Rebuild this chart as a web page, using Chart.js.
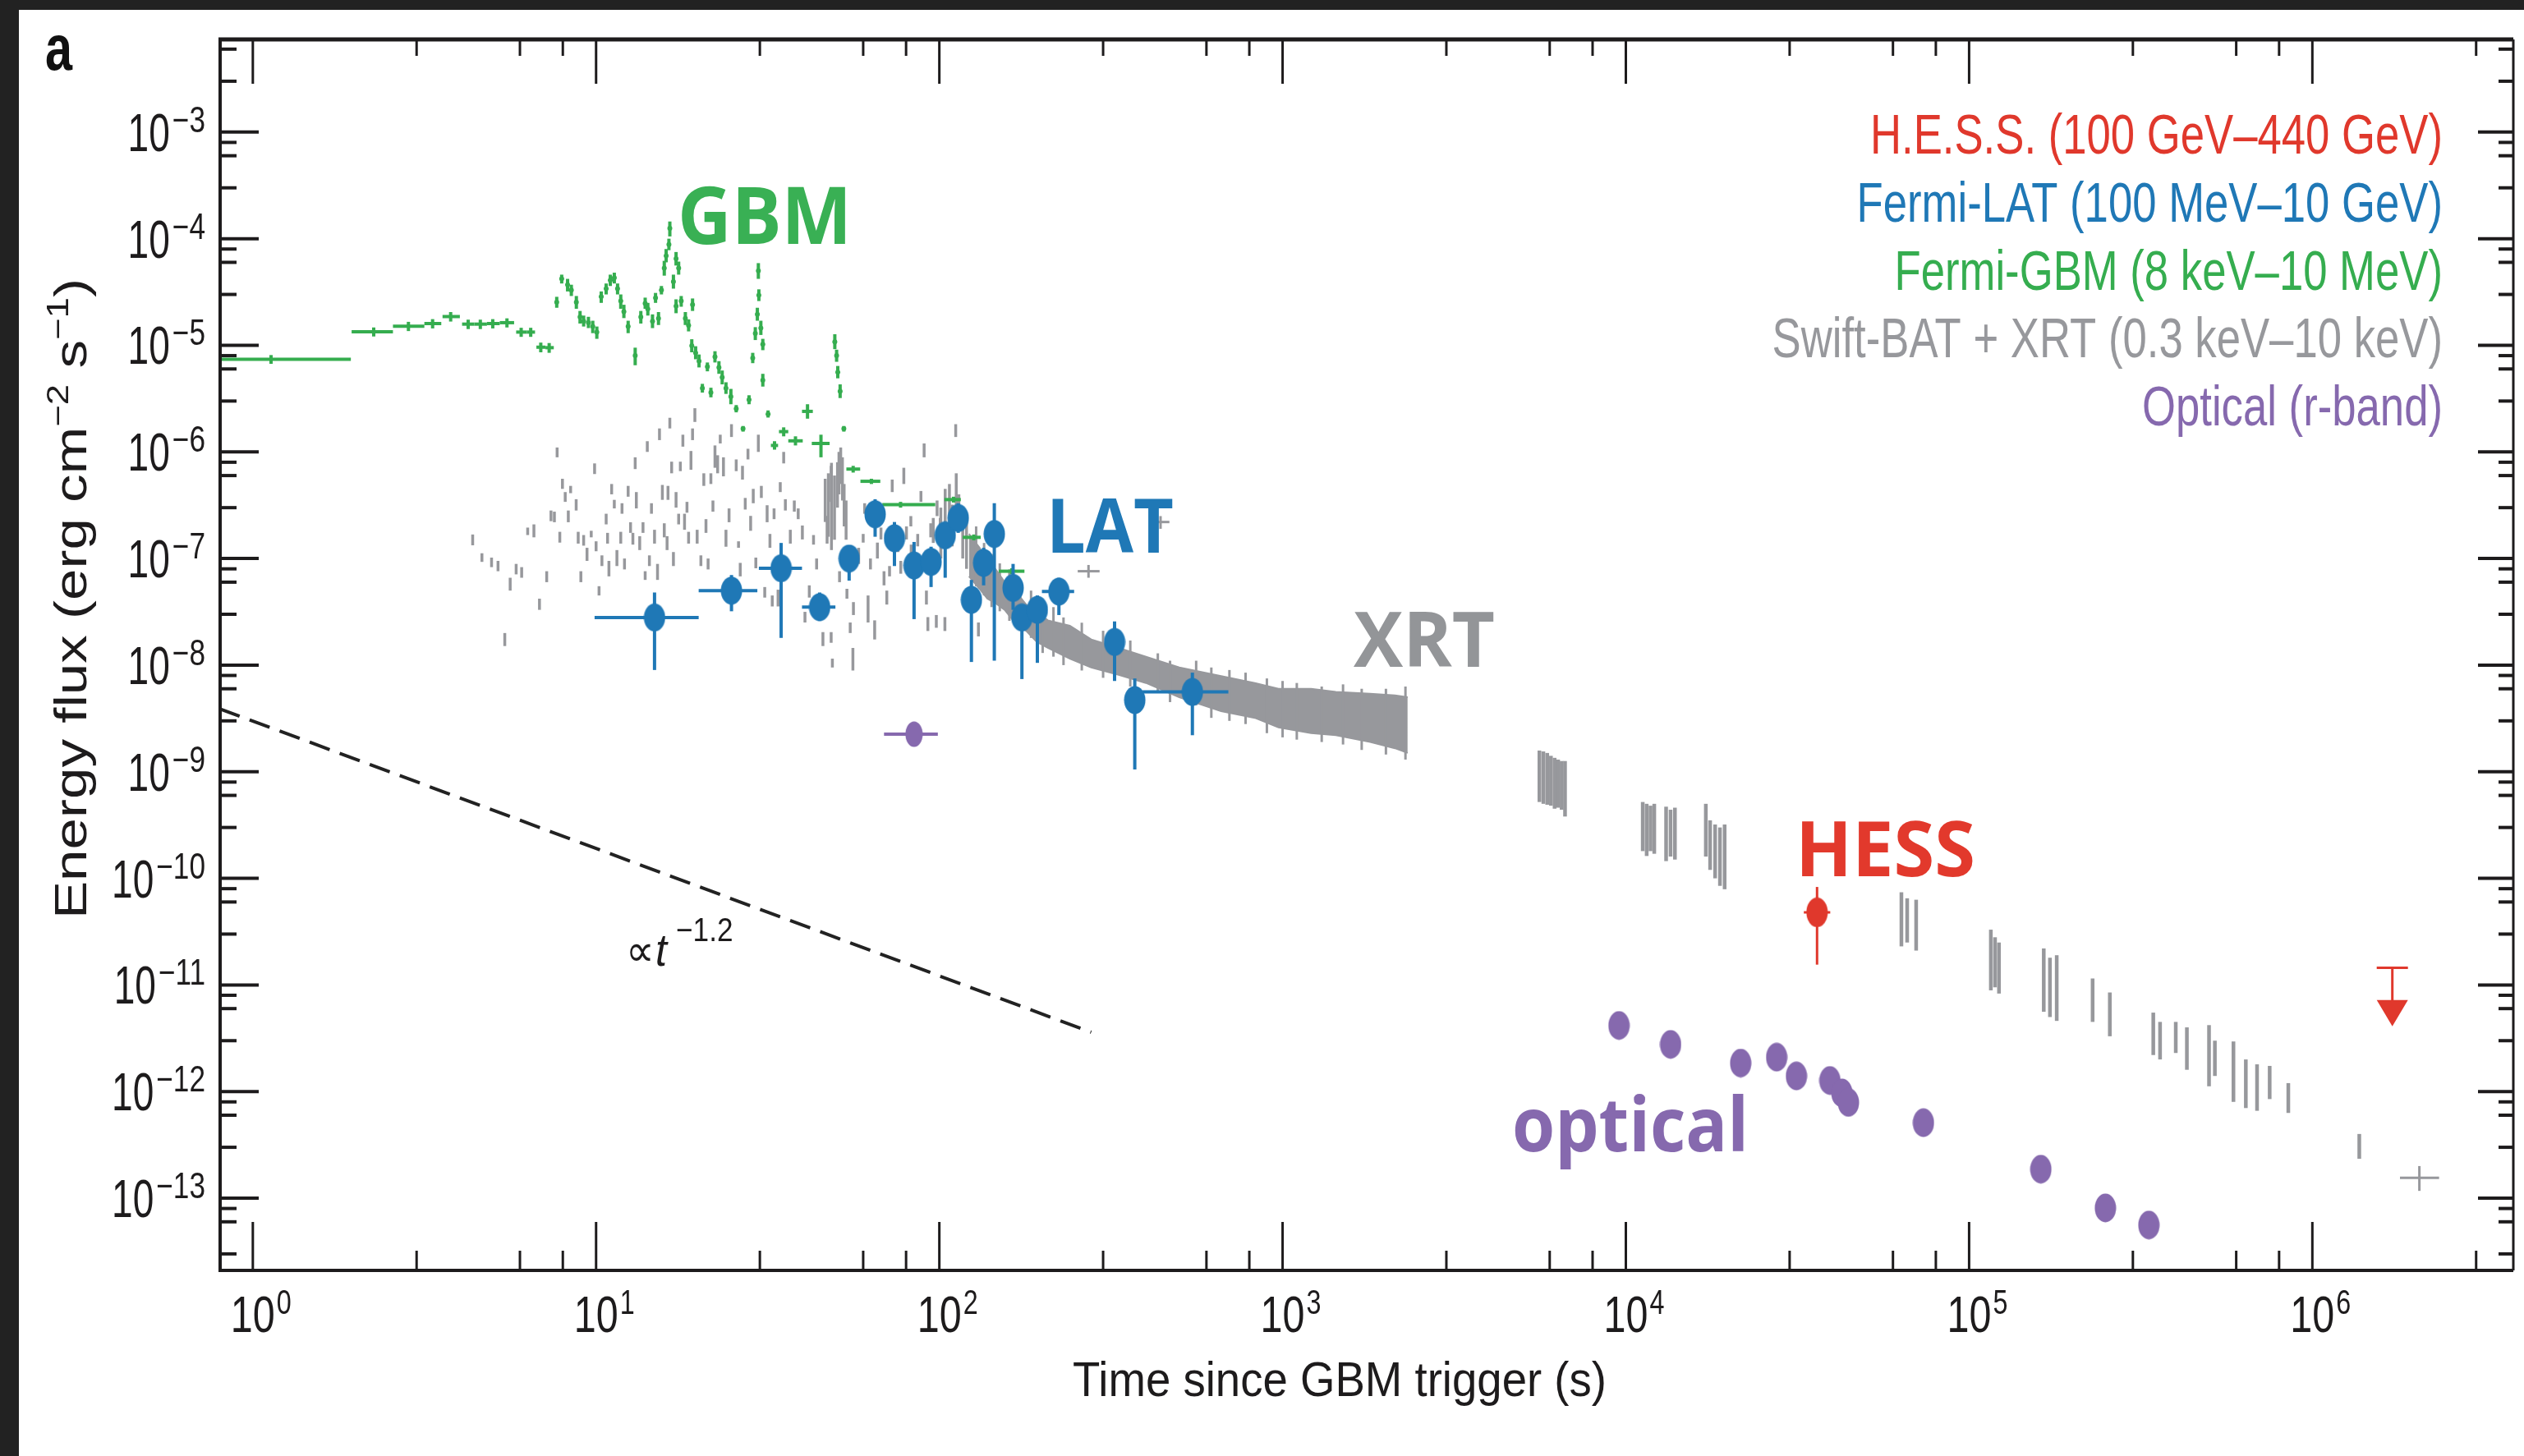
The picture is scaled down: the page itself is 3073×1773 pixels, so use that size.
<!DOCTYPE html>
<html>
<head>
<meta charset="utf-8">
<script src="https://cdn.jsdelivr.net/npm/chart.js@4.4.1/dist/chart.umd.min.js"></script>
<style>
  html, body { margin: 0; padding: 0; background: #fff; }
  #wrap { width: 3073px; height: 1773px; }
</style>
</head>
<body>
<div id="wrap"><canvas id="grb" width="3073" height="1773"></canvas></div>
<script>
/* Axis tick labels (powers of ten) */
const xTickExps = [0, 1, 2, 3, 4, 5, 6];
const yTickExps = [-3, -4, -5, -6, -7, -8, -9, -10, -11, -12, -13];

/* Legend entries */
const legendLabels = [
  "H.E.S.S. (100 GeV\u2013440 GeV)",
  "Fermi-LAT (100 MeV\u201310 GeV)",
  "Fermi-GBM (8 keV\u201310 MeV)",
  "Swift-BAT + XRT (0.3 keV\u201310 keV)",
  "Optical (r-band)",
];

/* Fermi-LAT: [t, tLo, tHi, flux, fluxLo, fluxHi] */
const lat = [
  [14.8, 9.9, 19.9, 2.8e-8, 9.0e-9, 4.8e-8],
  [24.8, 19.9, 29.5, 5.0e-8, 3.2e-8, 7.0e-8],
  [34.6, 29.8, 39.8, 8.1e-8, 1.8e-8, 1.4e-7],
  [44.8, 39.8, 49.8, 3.5e-8, 2.6e-8, 4.8e-8],
  [54.6, 52.0, 57.5, 1.0e-7, 6.2e-8, 1.3e-7],
  [65.0, 65.0, 65.0, 2.6e-7, 1.6e-7, 3.6e-7],
  [74.0, 74.0, 74.0, 1.55e-7, 8.5e-8, 2.2e-7],
  [84.4, 84.4, 84.4, 8.6e-8, 2.7e-8, 1.43e-7],
  [94.6, 94.6, 94.6, 9.3e-8, 5.4e-8, 1.29e-7],
  [104, 104, 104, 1.65e-7, 6.6e-8, 2.2e-7],
  [113.5, 113.5, 113.5, 2.4e-7, 1.74e-7, 3.3e-7],
  [124, 124, 124, 4.1e-8, 1.07e-8, 6.3e-8],
  [134.6, 134.6, 134.6, 9.1e-8, 5.6e-8, 1.26e-7],
  [144.6, 144.6, 144.6, 1.7e-7, 1.1e-8, 3.3e-7],
  [164, 164, 164, 5.3e-8, 3.3e-8, 8.9e-8],
  [174, 174, 174, 2.8e-8, 7.4e-9, 3.7e-8],
  [193, 193, 193, 3.3e-8, 1.05e-8, 4.5e-8],
  [223, 199, 247, 4.9e-8, 2.95e-8, 6.6e-8],
  [324, 324, 324, 1.65e-8, 7.1e-9, 2.57e-8],
  [371, 371, 371, 4.7e-9, 1.05e-9, 7.5e-9],
  [546, 391, 695, 5.6e-9, 2.2e-9, 8.5e-9],
];

/* H.E.S.S. detection and upper limit */
const hess = [[36060, 33000, 39400, 4.8e-11, 1.55e-11, 8.3e-11]];
const hessLimit = [[1.71e6, 1.45e-11, 4.1e-12]]; /* [t, limit, arrow tip] */

/* Optical r-band: [t, flux] */
const optical = [
  [9550, 4.17e-12], [13500, 2.77e-12], [21600, 1.85e-12], [27500, 2.1e-12],
  [31400, 1.4e-12], [39300, 1.27e-12], [42600, 9.7e-13], [44500, 7.9e-13],
  [73600, 5.1e-13], [161800, 1.87e-13], [249500, 8.1e-14], [334000, 5.6e-14],
];
const opticalEarly = [[84.4, 69, 99, 2.25e-9]];

/* Fermi-GBM binned points: [t, tLo, tHi, flux, fluxLo, fluxHi] */
const gbmBins = [
  [1.13, 0.5, 1.93, 7.4e-6, 6.7e-6, 8.1e-6],
  [2.25, 1.94, 2.56, 1.34e-5, 1.21e-5, 1.47e-5],
  [2.84, 2.56, 3.16, 1.51e-5, 1.36e-5, 1.66e-5],
  [3.34, 3.16, 3.54, 1.6e-5, 1.44e-5, 1.76e-5],
  [3.77, 3.57, 4.01, 1.86e-5, 1.67e-5, 2.05e-5],
  [4.24, 4.07, 4.42, 1.58e-5, 1.42e-5, 1.74e-5],
  [4.6, 4.42, 4.81, 1.58e-5, 1.42e-5, 1.74e-5],
  [5.0, 4.81, 5.24, 1.6e-5, 1.44e-5, 1.76e-5],
  [5.5, 5.24, 5.77, 1.63e-5, 1.47e-5, 1.79e-5],
  [6.05, 5.85, 6.28, 1.33e-5, 1.2e-5, 1.46e-5],
  [6.45, 6.28, 6.64, 1.33e-5, 1.2e-5, 1.46e-5],
  [6.9, 6.7, 7.12, 9.6e-6, 8.6e-6, 1.06e-5],
  [7.3, 7.12, 7.53, 9.5e-6, 8.5e-6, 1.05e-5],
  [33.1, 32.3, 33.9, 1.15e-6, 1.05e-6, 1.26e-6],
  [35.2, 34.1, 36.3, 1.55e-6, 1.4e-6, 1.7e-6],
  [38.1, 36.3, 40.0, 1.27e-6, 1.15e-6, 1.4e-6],
  [41.3, 39.8, 42.8, 2.4e-6, 2.05e-6, 2.8e-6],
  [45.2, 42.5, 47.9, 1.2e-6, 8.9e-7, 1.45e-6],
  [56.1, 53.6, 58.8, 6.9e-7, 6.4e-7, 7.4e-7],
  [63.4, 58.9, 67.3, 5.3e-7, 5.0e-7, 5.6e-7],
  [77.1, 68.2, 97.3, 3.2e-7, 3.0e-7, 3.4e-7],
  [110, 103.5, 115.5, 3.57e-7, 3.35e-7, 3.8e-7],
  [126, 117, 132, 1.58e-7, 1.48e-7, 1.68e-7],
  [162.6, 149, 177, 7.6e-8, 7.1e-8, 8.1e-8],
];

/* Fermi-GBM fine time bins: [t, flux, fluxLo, fluxHi] */
const gbmPulses = [
  [7.68, 2.54e-5, 2.25e-5, 2.85e-5], [7.94, 4.2e-5, 3.8e-5, 4.6e-5], [8.26, 3.7e-5, 3.2e-5, 4.2e-5],
  [8.47, 3.3e-5, 2.9e-5, 3.7e-5], [8.76, 2.54e-5, 2.2e-5, 2.9e-5], [8.98, 1.84e-5, 1.6e-5, 2.1e-5],
  [9.2, 1.68e-5, 1.5e-5, 1.9e-5], [9.5, 1.63e-5, 1.45e-5, 1.85e-5], [9.78, 1.5e-5, 1.3e-5, 1.7e-5],
  [10.05, 1.33e-5, 1.15e-5, 1.5e-5], [10.35, 2.86e-5, 2.5e-5, 3.2e-5], [10.7, 3.4e-5, 3.0e-5, 3.8e-5],
  [11.0, 4.07e-5, 3.6e-5, 4.6e-5], [11.3, 4.3e-5, 3.8e-5, 4.8e-5], [11.55, 3.4e-5, 3.0e-5, 3.8e-5],
  [11.8, 2.6e-5, 2.2e-5, 3.0e-5], [12.05, 2.07e-5, 1.8e-5, 2.4e-5], [12.4, 1.5e-5, 1.3e-5, 1.7e-5],
  [13.0, 8.0e-6, 6.5e-6, 9.5e-6], [13.5, 1.84e-5, 1.6e-5, 2.1e-5], [13.9, 2.47e-5, 2.2e-5, 2.8e-5],
  [14.15, 2.19e-5, 1.9e-5, 2.5e-5], [14.6, 1.68e-5, 1.45e-5, 1.95e-5], [14.9, 2.78e-5, 2.5e-5, 3.1e-5],
  [15.2, 1.79e-5, 1.55e-5, 2.05e-5], [15.5, 3.3e-5, 3.0e-5, 3.6e-5], [15.8, 5.3e-5, 4.5e-5, 6.2e-5],
  [16.0, 6.9e-5, 6.0e-5, 8.0e-5], [16.3, 8.8e-5, 7.8e-5, 1.0e-4], [16.4, 1.25e-4, 1.05e-4, 1.45e-4],
  [16.8, 3.96e-5, 3.4e-5, 4.6e-5], [17.1, 6.5e-5, 5.6e-5, 7.5e-5], [17.4, 5.3e-5, 4.6e-5, 6.1e-5],
  [17.1, 2.33e-5, 2.0e-5, 2.7e-5], [17.7, 2.6e-5, 2.3e-5, 2.9e-5], [18.2, 1.79e-5, 1.55e-5, 2.05e-5],
  [18.6, 1.54e-5, 1.35e-5, 1.75e-5], [19.1, 2.4e-5, 2.1e-5, 2.75e-5], [19.0, 9.9e-6, 8.6e-6, 1.14e-5],
  [19.5, 8.5e-6, 7.4e-6, 9.8e-6], [19.95, 7.1e-6, 6.2e-6, 8.2e-6], [20.4, 3.96e-6, 3.6e-6, 4.35e-6],
  [21.1, 6.3e-6, 5.7e-6, 6.9e-6], [21.6, 3.6e-6, 3.25e-6, 4.0e-6], [22.2, 7.8e-6, 6.9e-6, 8.8e-6],
  [22.8, 6.2e-6, 5.4e-6, 7.1e-6], [23.3, 5.0e-6, 4.3e-6, 5.8e-6], [23.9, 3.96e-6, 3.5e-6, 4.5e-6],
  [24.7, 3.3e-6, 2.8e-6, 3.9e-6], [25.6, 2.54e-6, 2.35e-6, 2.75e-6], [26.8, 1.65e-6, 1.55e-6, 1.75e-6],
  [27.9, 3.09e-6, 2.8e-6, 3.4e-6], [28.6, 7.6e-6, 6.8e-6, 8.5e-6], [29.1, 1.29e-5, 1.12e-5, 1.48e-5],
  [29.5, 1.95e-5, 1.7e-5, 2.25e-5], [29.8, 2.95e-5, 2.6e-5, 3.35e-5], [29.7, 5.0e-5, 4.2e-5, 5.9e-5],
  [30.2, 1.45e-5, 1.25e-5, 1.7e-5], [30.6, 1.02e-5, 9.0e-6, 1.15e-5], [30.6, 4.7e-6, 4.1e-6, 5.4e-6],
  [31.7, 2.26e-6, 2.1e-6, 2.45e-6], [49.6, 1.08e-5, 9.2e-6, 1.27e-5], [50.2, 8.0e-6, 7.0e-6, 9.1e-6],
  [50.6, 5.6e-6, 4.9e-6, 6.4e-6], [51.4, 3.7e-6, 3.2e-6, 4.3e-6], [52.7, 1.65e-6, 1.55e-6, 1.75e-6],
];

/* Swift-BAT + early XRT scattered bins: [t, fluxLo, fluxHi] */
const batBars = [
  [4.37, 1.33e-7, 1.68e-7], [4.65, 9.3e-8, 1.12e-7], [4.96, 8.3e-8, 1.02e-7], [5.18, 7.6e-8, 9.5e-8],
  [5.42, 1.51e-8, 2.0e-8], [5.62, 5.0e-8, 6.6e-8], [5.85, 7.1e-8, 8.9e-8], [6.07, 6.6e-8, 8.3e-8],
  [6.32, 1.66e-7, 1.95e-7], [6.59, 1.58e-7, 2.09e-7], [6.84, 3.3e-8, 4.2e-8], [7.18, 6.0e-8, 7.6e-8],
  [7.39, 2.24e-7, 2.82e-7], [7.56, 2.19e-7, 2.75e-7], [7.7, 8.9e-7, 1.1e-6], [7.84, 1.41e-7, 1.78e-7],
  [7.98, 4.5e-7, 5.6e-7], [8.13, 3.4e-7, 4.2e-7], [8.3, 2.19e-7, 2.82e-7], [8.43, 4.1e-7, 4.8e-7],
  [8.75, 2.82e-7, 3.6e-7], [8.87, 1.38e-7, 1.78e-7], [9.03, 6.0e-8, 7.6e-8], [9.2, 1.32e-7, 1.66e-7],
  [9.41, 9.5e-8, 1.26e-7], [9.68, 1.58e-7, 1.82e-7], [9.9, 6.2e-7, 7.8e-7], [10.0, 1.17e-7, 1.45e-7],
  [10.2, 4.5e-8, 5.5e-8], [10.4, 8.5e-8, 1.07e-7], [10.7, 2.09e-7, 2.63e-7], [10.8, 1.38e-7, 1.74e-7],
  [10.9, 6.8e-8, 9.5e-8], [11.1, 4.0e-7, 5.0e-7], [11.3, 2.95e-7, 3.55e-7], [11.5, 8.5e-8, 1.2e-7],
  [11.8, 1.38e-7, 1.78e-7], [11.9, 2.63e-7, 3.3e-7], [12.1, 7.9e-8, 1.0e-7], [12.4, 3.8e-7, 4.8e-7],
  [12.6, 1.74e-7, 2.19e-7], [12.8, 1.35e-7, 1.74e-7], [13.0, 6.9e-7, 8.9e-7], [13.1, 2.95e-7, 4.2e-7],
  [13.4, 1.2e-7, 1.62e-7], [13.7, 1.74e-7, 2.19e-7], [13.9, 6.3e-8, 7.6e-8], [14.1, 1.0e-6, 1.26e-6],
  [14.3, 8.5e-8, 1.07e-7], [14.5, 2.63e-7, 3.3e-7], [14.8, 1.38e-7, 1.86e-7], [15.1, 6.3e-8, 8.9e-8],
  [15.3, 1.29e-6, 1.66e-6], [15.6, 3.55e-7, 4.9e-7], [15.8, 1.58e-7, 2.14e-7], [16.1, 1.2e-7, 1.62e-7],
  [16.2, 3.55e-7, 4.8e-7], [16.4, 1.66e-6, 2.09e-6], [16.6, 6.3e-7, 8.1e-7], [16.8, 8.5e-8, 1.15e-7],
  [17.1, 3.0e-7, 4.2e-7], [17.4, 2.09e-7, 2.63e-7], [17.6, 6.6e-7, 8.1e-7], [17.9, 1.12e-6, 1.45e-6],
  [18.1, 1.86e-7, 2.63e-7], [18.4, 2.69e-7, 3.4e-7], [18.6, 1.38e-7, 1.78e-7], [18.9, 6.8e-7, 1.02e-6],
  [19.1, 1.29e-6, 1.66e-6], [19.4, 1.91e-6, 2.57e-6], [19.7, 1.38e-7, 1.86e-7], [20.2, 8.5e-8, 1.07e-7],
  [20.6, 4.8e-7, 6.3e-7], [20.9, 1.74e-7, 2.34e-7], [21.2, 7.9e-8, 1.0e-7], [21.6, 5.0e-7, 6.3e-7],
  [21.9, 2.75e-7, 3.5e-7], [22.2, 7.1e-7, 1.15e-6], [22.6, 6.3e-7, 9.3e-7], [23.0, 1.2e-6, 1.45e-6],
  [23.5, 5.9e-7, 8.9e-7], [23.9, 1.29e-7, 1.86e-7], [24.4, 2.19e-7, 2.95e-7], [24.8, 1.38e-6, 1.82e-6],
  [25.6, 6.6e-7, 8.5e-7], [26.0, 1.26e-7, 1.45e-7], [26.3, 6.8e-8, 9.1e-8], [26.7, 5.5e-7, 7.4e-7],
  [27.2, 2.88e-7, 3.7e-7], [27.7, 8.5e-7, 1.07e-6], [28.2, 1.82e-7, 2.51e-7], [28.7, 3.3e-7, 4.5e-7],
  [29.2, 8.1e-8, 1.02e-7], [29.7, 1.0e-6, 1.45e-6], [30.3, 3.7e-7, 4.8e-7], [31.0, 4.3e-8, 5.4e-8],
  [31.5, 2.19e-7, 3.16e-7], [32.1, 1.26e-7, 1.7e-7], [32.6, 3.55e-8, 4.5e-8], [33.0, 2.34e-7, 2.95e-7],
  [33.9, 3.55e-8, 5.1e-8], [34.4, 4.2e-7, 5.2e-7], [35.2, 7.8e-7, 1.0e-6], [35.6, 2.82e-7, 3.6e-7],
  [36.8, 1.38e-7, 1.86e-7], [37.8, 2.75e-7, 3.5e-7], [38.8, 2.34e-7, 2.95e-7], [39.9, 1.51e-7, 2.04e-7],
  [40.6, 2.51e-8, 3.16e-8], [41.8, 4.3e-8, 5.6e-8], [43.0, 1.35e-7, 1.66e-7], [43.9, 7.9e-8, 1.0e-7],
  [45.8, 1.51e-8, 2.04e-8], [47.1, 1.38e-7, 2.51e-7], [48.4, 1.62e-8, 2.04e-8], [48.8, 9.5e-9, 1.15e-8],
  [48.4, 3.4e-7, 7.4e-7], [46.5, 2.2e-7, 5.6e-7], [47.5, 1.6e-7, 6.3e-7], [48.5, 1.2e-7, 7.9e-7],
  [49.5, 1.5e-7, 6.0e-7], [50.5, 3.0e-7, 8.0e-7], [51.0, 4.0e-7, 1.0e-6], [51.6, 5.0e-7, 1.1e-6],
  [52.2, 3.5e-7, 8.9e-7], [52.8, 2.0e-7, 5.0e-7], [53.5, 1.5e-7, 3.5e-7], [51.2, 6.0e-8, 7.6e-8],
  [53.8, 4.2e-8, 5.2e-8], [55.0, 2.0e-8, 2.51e-8], [56.0, 8.9e-9, 1.45e-8], [56.2, 2.95e-8, 3.9e-8],
  [58.2, 8.9e-8, 1.26e-7], [60.0, 1.41e-7, 1.7e-7], [60.6, 2.63e-7, 3.3e-7], [62.0, 2.51e-8, 4.5e-8],
  [63.0, 7.9e-8, 1.0e-7], [64.8, 1.74e-8, 2.63e-8], [66.0, 1.0e-7, 1.41e-7], [67.6, 1.51e-7, 1.95e-7],
  [69.0, 5.6e-8, 7.6e-8], [70.3, 3.7e-8, 5.0e-8], [71.6, 6.8e-8, 8.5e-8], [72.9, 4.2e-7, 5.5e-7],
  [75.8, 1.15e-7, 1.58e-7], [77.2, 7.2e-8, 9.5e-8], [78.8, 5.0e-7, 7.1e-7], [80.2, 1.51e-7, 2.0e-7],
  [82.6, 2.0e-7, 2.5e-7], [82.8, 1.0e-7, 1.35e-7], [86.5, 1.3e-7, 1.7e-7], [88.4, 3.4e-7, 4.3e-7],
  [90.3, 8.9e-7, 1.2e-6], [91.7, 3.7e-8, 5.0e-8], [92.6, 2.09e-8, 2.82e-8], [94.4, 1.58e-7, 2.14e-7],
  [96.0, 1.4e-7, 2.4e-7], [98.0, 2.24e-8, 2.95e-8], [98.5, 2.5e-7, 3.5e-7], [100.6, 1.78e-7, 2.4e-7],
  [101, 1.0e-7, 3.0e-7], [103.8, 2.09e-8, 2.82e-8], [104, 1.5e-7, 4.5e-7], [107, 2.0e-7, 5.0e-7],
  [109, 1.3e-7, 3.2e-7], [111.6, 1.38e-6, 1.82e-6], [112, 2.5e-7, 6.3e-7], [114, 1.8e-7, 4.0e-7],
  [117, 1.0e-7, 3.0e-7], [120, 8.0e-8, 2.2e-7], [130, 1.86e-8, 2.51e-8],
];

/* Swift-XRT dense light curve envelope: [t, fluxLo, fluxHi] */
const xrtBand = [
  [122, 6.8e-8, 1.7e-7], [131, 5.2e-8, 1.26e-7], [138, 4.2e-8, 9.5e-8], [146, 3.8e-8, 7.9e-8],
  [155, 3.3e-8, 6.0e-8], [166, 2.5e-8, 5.0e-8], [179, 2.1e-8, 3.7e-8], [192, 1.66e-8, 3.16e-8],
  [207, 1.45e-8, 2.63e-8], [240, 1.15e-8, 2.34e-8], [277, 9.5e-9, 1.74e-8], [333, 8.1e-9, 1.45e-8],
  [400, 6.8e-9, 1.2e-8], [500, 5.0e-9, 9.5e-9], [662, 3.7e-9, 7.9e-9], [830, 3.2e-9, 6.8e-9],
  [973, 2.6e-9, 6.0e-9], [1211, 2.3e-9, 6.0e-9], [1429, 2.2e-9, 5.6e-9], [1800, 1.9e-9, 5.4e-9],
  [2125, 1.66e-9, 5.2e-9], [2314, 1.5e-9, 5.0e-9],
];

/* Swift-XRT bins sticking out of the dense band: [t, fluxLo, fluxHi] */
const xrtSpikes = [
  [128, 5.5e-8, 2.0e-7], [135, 4.5e-8, 1.4e-7], [142, 3.5e-8, 1.1e-7], [150, 3.2e-8, 9.0e-8],
  [160, 2.6e-8, 7.9e-8], [172, 2.2e-8, 5.6e-8], [185, 1.8e-8, 5.0e-8], [200, 1.3e-8, 3.7e-8],
  [215, 1.2e-8, 3.5e-8], [230, 1.0e-8, 2.8e-8], [260, 8.9e-9, 2.5e-8], [300, 7.6e-9, 2.1e-8],
  [360, 6.3e-9, 1.7e-8], [433, 5.6e-9, 1.29e-8], [470, 4.5e-9, 1.1e-8], [560, 4.2e-9, 1.1e-8],
  [620, 3.2e-9, 9.5e-9], [700, 3.0e-9, 9.0e-9], [780, 2.8e-9, 8.5e-9], [900, 2.3e-9, 7.5e-9],
  [1000, 2.1e-9, 7.1e-9], [1100, 2.0e-9, 6.8e-9], [1300, 1.9e-9, 6.3e-9], [1500, 1.8e-9, 6.6e-9],
  [1700, 1.6e-9, 6.0e-9], [2000, 1.45e-9, 6.0e-9], [2280, 1.3e-9, 6.3e-9],
];

/* Swift-XRT later orbits: [t, fluxLo, fluxHi] */
const xrtLate = [
  [5600, 5.2e-10, 1.58e-9], [5750, 5.0e-10, 1.55e-9], [5900, 4.9e-10, 1.5e-9], [6050, 4.8e-10, 1.41e-9],
  [6200, 4.5e-10, 1.35e-9], [6350, 4.6e-10, 1.3e-9], [6500, 4.4e-10, 1.26e-9], [6650, 3.8e-10, 1.26e-9],
  [11200, 1.8e-10, 5.2e-10], [11500, 1.62e-10, 5.0e-10], [11800, 1.8e-10, 4.8e-10], [12100, 1.7e-10, 5.0e-10],
  [13100, 1.45e-10, 4.7e-10], [13500, 1.6e-10, 4.4e-10], [13900, 1.5e-10, 4.6e-10],
  [17100, 1.6e-10, 5.0e-10], [17600, 1.2e-10, 3.5e-10], [18200, 1.0e-10, 3.2e-10], [18800, 8.5e-11, 3.0e-10],
  [19400, 7.9e-11, 3.2e-10],
  [63500, 2.3e-11, 7.4e-11], [66000, 2.5e-11, 6.5e-11], [70100, 2.1e-11, 6.3e-11],
  [115700, 8.9e-12, 3.3e-11], [119000, 9.5e-12, 2.8e-11], [122200, 8.3e-12, 2.5e-11],
  [165000, 5.6e-12, 2.2e-11], [172000, 5.0e-12, 1.8e-11], [180000, 4.6e-12, 1.9e-11],
  [229000, 4.5e-12, 1.15e-11], [257000, 3.3e-12, 8.5e-12],
  [344000, 2.2e-12, 5.5e-12], [360000, 2.0e-12, 4.5e-12], [400000, 2.3e-12, 4.5e-12], [431000, 1.6e-12, 4.0e-12],
  [500000, 1.12e-12, 4.2e-12], [520000, 1.4e-12, 3.0e-12],
  [589000, 8.0e-13, 2.95e-12], [640000, 7.0e-13, 2.0e-12], [690000, 6.6e-13, 1.8e-12],
  [751000, 8.5e-13, 1.74e-12], [851000, 6.3e-13, 1.2e-12],
  [1.37e6, 2.34e-13, 4.0e-13],
];

/* Swift-XRT single crosses: [t, tLo, tHi, flux, fluxLo, fluxHi] */
const xrtCross = [
  [272, 253, 293, 7.6e-8, 6.6e-8, 8.7e-8],
  [441, 417, 468, 2.2e-7, 1.9e-7, 2.5e-7],
  [2.05e6, 1.8e6, 2.34e6, 1.55e-13, 1.17e-13, 2.0e-13],
];

/* Power-law guide  ~ t^-1.2 */
const guideT = [0.8, 277];
const guideF = [3.9e-9, 3.6e-12];

/* Colours */
const RED = "#e0382c";
const BLUE = "#1f78b6";
const GREEN = "#35ad4f";
const GREY = "#97989c";
const PURPLE = "#8669ae";
const INK = "#1d1b1c";
const HELV = '"Liberation Sans", Arial, sans-serif';
const BOLD = '"Open Sans", "Noto Sans", sans-serif';

/* Filled ellipse used as marker */
function ellipseMarker(w, h, color) {
  const c = document.createElement("canvas");
  c.width = w;
  c.height = h;
  const g = c.getContext("2d");
  g.fillStyle = color;
  g.beginPath();
  g.ellipse(w / 2, h / 2, w / 2 - 0.5, h / 2 - 0.5, 0, 0, Math.PI * 2);
  g.fill();
  return c;
}

/* Decade + minor ticks from the scale range */
function logTicks(scale) {
  const lo = Math.floor(Math.log10(scale.min));
  const hi = Math.ceil(Math.log10(scale.max));
  const ticks = [];
  for (let e = lo; e <= hi; e++) {
    for (let m = 1; m <= 9; m++) {
      const v = m * Math.pow(10, e);
      if (v >= scale.min && v <= scale.max) ticks.push({ value: v, major: m === 1 });
    }
  }
  scale.ticks = ticks;
}

/* Text helpers (horizontal squeeze sx) */
function drawText(ctx, s, x, yb, font, color, align, sx) {
  ctx.save();
  ctx.font = font;
  ctx.fillStyle = color;
  ctx.textAlign = "left";
  ctx.textBaseline = "alphabetic";
  const w = ctx.measureText(s).width * sx;
  const x0 = align === "right" ? x - w : align === "center" ? x - w / 2 : x;
  ctx.translate(x0, yb);
  ctx.scale(sx, 1);
  ctx.fillText(s, 0, 0);
  ctx.restore();
  return w;
}
function textWidth(ctx, s, font) {
  ctx.save();
  ctx.font = font;
  const w = ctx.measureText(s).width;
  ctx.restore();
  return w;
}
function fitText(ctx, s, x0, x1, yb, font, color) {
  drawText(ctx, s, x0, yb, font, color, "left", (x1 - x0) / textWidth(ctx, s, font));
}
function richWidth(ctx, parts, size) {
  return parts.reduce((w, p) => w + textWidth(ctx, p.t, `${p.sup ? size * 0.66 : size}px ${HELV}`), 0);
}
function drawRich(ctx, parts, x, yb, size, color, sx) {
  let cx = x;
  parts.forEach((p) => {
    const fs = p.sup ? size * 0.66 : size;
    cx += drawText(ctx, p.t, cx, yb - (p.sup ? size * 0.4 : 0), `${fs}px ${HELV}`, color, "left", sx);
  });
}
function line(ctx, x0, y0, x1, y1, w) {
  ctx.lineWidth = w;
  ctx.beginPath();
  ctx.moveTo(x0, y0);
  ctx.lineTo(x1, y1);
  ctx.stroke();
}

/* Error bars, upper limit, frame, ticks and all labels */
const figurePlugin = {
  id: "figure",
  beforeDraw(chart) {
    const { ctx, width, height } = chart;
    ctx.save();
    ctx.fillStyle = "#fff";
    ctx.fillRect(0, 0, width, height);
    ctx.fillStyle = "#222";
    ctx.fillRect(0, 0, width, 12);
    ctx.fillRect(0, 0, 23, height);
    ctx.restore();
  },
  beforeDatasetDraw(chart, args) {
    const ds = chart.data.datasets[args.index];
    if (!ds.errorBars && !ds.limitTips) return;
    const { ctx, chartArea: a, scales: { x, y } } = chart;
    ctx.save();
    ctx.beginPath();
    ctx.rect(a.left, a.top, a.right - a.left, a.bottom - a.top);
    ctx.clip();
    ctx.strokeStyle = ds.barColor;
    ctx.fillStyle = ds.barColor;
    ctx.lineCap = "butt";
    ds.data.forEach((p, i) => {
      const px = x.getPixelForValue(p.x);
      const py = y.getPixelForValue(p.y);
      if (ds.errorBars) {
        const e = ds.errorBars[i];
        if (e.yMin !== undefined) line(ctx, px, y.getPixelForValue(e.yMin), px, y.getPixelForValue(e.yMax), ds.barWidth);
        if (e.xMin !== undefined && e.xMin !== e.xMax)
          line(ctx, x.getPixelForValue(e.xMin), py, x.getPixelForValue(e.xMax), py, ds.barWidth);
      }
      if (ds.limitTips) {
        const tip = y.getPixelForValue(ds.limitTips[i]);
        line(ctx, px - 19, py, px + 19, py, 3);
        line(ctx, px, py, px, tip - 30, 3);
        ctx.beginPath();
        ctx.moveTo(px - 19, tip - 32);
        ctx.lineTo(px + 19, tip - 32);
        ctx.lineTo(px, tip);
        ctx.closePath();
        ctx.fill();
      }
    });
    ctx.restore();
  },
  afterDraw(chart) {
    const { ctx, chartArea: a, scales: { x, y } } = chart;
    ctx.save();
    ctx.strokeStyle = INK;
    ctx.lineCap = "butt";

    /* Frame */
    line(ctx, a.left - 2, a.top, a.right, a.top, 5);
    line(ctx, a.left - 2, a.bottom, a.right, a.bottom, 4);
    line(ctx, a.left, a.top, a.left, a.bottom, 4);
    line(ctx, a.right, a.top, a.right, a.bottom, 3);

    /* Inward ticks on all four sides */
    x.ticks.forEach((t) => {
      const px = x.getPixelForValue(t.value);
      line(ctx, px, a.bottom, px, a.bottom - (t.major ? 59 : 24), 3);
      line(ctx, px, a.top, px, a.top + (t.major ? 54 : 20), 3);
    });
    y.ticks.forEach((t) => {
      const py = y.getPixelForValue(t.value);
      line(ctx, a.left, py, a.left + (t.major ? 47 : 20), py, 4);
      line(ctx, a.right, py, a.right - (t.major ? 43 : 18), py, 4);
    });

    /* Tick labels */
    xTickExps.forEach((e) => {
      const px = x.getPixelForValue(Math.pow(10, e));
      const w = drawText(ctx, "10", px, a.bottom + 75, `63px ${HELV}`, INK, "center", 0.77);
      drawText(ctx, String(e), px + w / 2 + 2, a.bottom + 53, `42px ${HELV}`, INK, "left", 0.77);
    });
    yTickExps.forEach((e) => {
      const py = y.getPixelForValue(Math.pow(10, e));
      const w = drawText(ctx, "\u2212" + Math.abs(e), a.left - 18, py, `44px ${HELV}`, INK, "right", 0.8);
      drawText(ctx, "10", a.left - 18 - w - 3, py + 23, `64px ${HELV}`, INK, "right", 0.72);
    });

    /* Axis titles */
    fitText(ctx, "Time since GBM trigger (s)", 1306, 1956, 1700, `60px ${HELV}`, INK);
    const yParts = [
      { t: "Energy flux (erg cm" }, { t: "\u22122", sup: true },
      { t: " s" }, { t: "\u22121", sup: true }, { t: ")" },
    ];
    const yLen = 780;
    ctx.save();
    ctx.translate(105, 729);
    ctx.rotate(-Math.PI / 2);
    drawRich(ctx, yParts, -yLen / 2, 0, 56, INK, yLen / richWidth(ctx, yParts, 56));
    ctx.restore();

    /* Panel letter */
    fitText(ctx, "a", 55, 88, 85, `bold 78px ${HELV}`, "#111");

    /* Legend text */
    const legendColors = [RED, BLUE, GREEN, GREY, PURPLE];
    const sq = 697 / textWidth(ctx, legendLabels[0], `68px ${HELV}`);
    legendLabels.forEach((s, i) => {
      drawText(ctx, s, 2974, 187 + i * 82.8, `68px ${HELV}`, legendColors[i], "right", sq);
    });

    /* In-plot labels */
    fitText(ctx, "GBM", 825, 1037, 297, `700 97px ${BOLD}`, "#39b054");
    fitText(ctx, "LAT", 1274, 1429, 673, `700 91px ${BOLD}`, BLUE);
    fitText(ctx, "XRT", 1648, 1820, 812, `700 94px ${BOLD}`, "#939598");
    fitText(ctx, "HESS", 2186, 2405, 1067, `700 94px ${BOLD}`, "#e2392c");
    fitText(ctx, "optical", 1841, 2129, 1402, `700 92px ${BOLD}`, PURPLE);

    /* Power-law annotation */
    drawText(ctx, "\u221D", 762, 1176, `54px "DejaVu Sans", ${HELV}`, INK, "left", 0.9);
    drawText(ctx, "t", 798, 1176, `italic 56px ${HELV}`, INK, "left", 0.9);
    drawText(ctx, "\u22121.2", 823, 1146, `40px ${HELV}`, INK, "left", 0.88);
    ctx.restore();
  },
};

/* Helpers turning the rows into Chart.js points and bars */
const pts = (rows, xi, yi) => rows.map((r) => ({ x: r[xi], y: r[yi] }));
const vBars = (rows) => rows.map((r) => ({ yMin: r[1], yMax: r[2] }));

const datasets = [
  {
    label: "Fermi-LAT",
    data: pts(lat, 0, 3),
    errorBars: lat.map((r) => ({ xMin: r[1], xMax: r[2], yMin: r[4], yMax: r[5] })),
    barColor: BLUE, barWidth: 4,
    pointStyle: ellipseMarker(27, 35, BLUE), pointRadius: 12,
  },
  {
    label: "H.E.S.S.",
    data: pts(hess, 0, 3),
    errorBars: hess.map((r) => ({ xMin: r[1], xMax: r[2], yMin: r[4], yMax: r[5] })),
    barColor: RED, barWidth: 3,
    pointStyle: ellipseMarker(27, 37, RED), pointRadius: 12,
  },
  {
    label: "H.E.S.S. upper limit",
    data: pts(hessLimit, 0, 1),
    limitTips: hessLimit.map((r) => r[2]),
    barColor: RED, pointRadius: 0,
  },
  {
    label: "Optical",
    data: pts(optical, 0, 1),
    pointStyle: ellipseMarker(27, 36, PURPLE), pointRadius: 12,
  },
  {
    label: "Optical early",
    data: pts(opticalEarly, 0, 3),
    errorBars: opticalEarly.map((r) => ({ xMin: r[1], xMax: r[2] })),
    barColor: PURPLE, barWidth: 4,
    pointStyle: ellipseMarker(22, 32, PURPLE), pointRadius: 11,
  },
  {
    label: "Fermi-GBM",
    data: pts(gbmBins, 0, 3),
    errorBars: gbmBins.map((r) => ({ xMin: r[1], xMax: r[2], yMin: r[4], yMax: r[5] })),
    barColor: GREEN, barWidth: 4, pointRadius: 0,
  },
  {
    label: "Fermi-GBM fine",
    data: pts(gbmPulses, 0, 1),
    errorBars: gbmPulses.map((r) => ({ yMin: r[2], yMax: r[3] })),
    barColor: GREEN, barWidth: 4,
    pointRadius: 3, pointBackgroundColor: GREEN, pointBorderWidth: 0,
  },
  {
    type: "line",
    label: "t^-1.2",
    data: guideT.map((t, i) => ({ x: t, y: guideF[i] })),
    borderColor: "#222", borderWidth: 4, borderDash: [26, 13],
    pointRadius: 0, fill: false,
  },
  {
    label: "XRT cross",
    data: pts(xrtCross, 0, 3),
    errorBars: xrtCross.map((r) => ({ xMin: r[1], xMax: r[2], yMin: r[4], yMax: r[5] })),
    barColor: GREY, barWidth: 3, pointRadius: 0,
  },
  {
    label: "Swift-BAT",
    data: pts(batBars, 0, 2),
    errorBars: vBars(batBars),
    barColor: GREY, barWidth: 3.5, pointRadius: 0,
  },
  {
    label: "XRT spikes",
    data: pts(xrtSpikes, 0, 2),
    errorBars: vBars(xrtSpikes),
    barColor: GREY, barWidth: 3, pointRadius: 0,
  },
  {
    label: "XRT late",
    data: pts(xrtLate, 0, 2),
    errorBars: vBars(xrtLate),
    barColor: GREY, barWidth: 4.5, pointRadius: 0,
  },
  {
    type: "line",
    label: "XRT upper",
    data: pts(xrtBand, 0, 2),
    borderColor: GREY, borderWidth: 2, backgroundColor: GREY,
    pointRadius: 0, fill: "+1",
  },
  {
    type: "line",
    label: "XRT lower",
    data: pts(xrtBand, 0, 1),
    borderColor: GREY, borderWidth: 2,
    pointRadius: 0, fill: false,
  },
];

new Chart(document.getElementById("grb"), {
  type: "scatter",
  data: { datasets },
  plugins: [figurePlugin],
  options: {
    responsive: false,
    animation: false,
    devicePixelRatio: 1,
    events: [],
    layout: { padding: { left: 268, top: 48, right: 2, bottom: 226 } },
    plugins: { legend: { display: false }, tooltip: { enabled: false } },
    scales: {
      x: {
        type: "logarithmic",
        min: 0.803,
        max: 3.85e6,
        display: false,
        afterBuildTicks: logTicks,
      },
      y: {
        type: "logarithmic",
        min: 2.1e-14,
        max: 7.4e-3,
        display: false,
        afterBuildTicks: logTicks,
      },
    },
  },
});
</script>
</body>
</html>
